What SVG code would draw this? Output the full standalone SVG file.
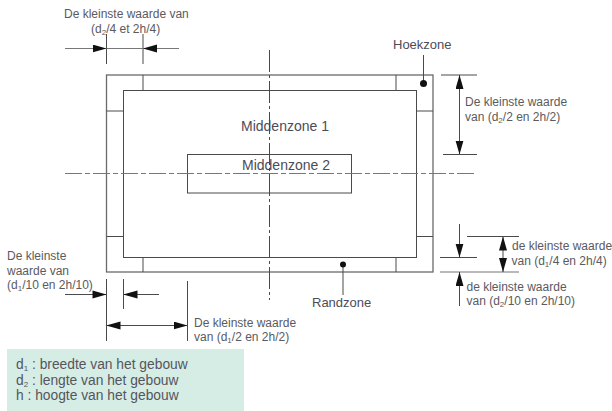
<svg xmlns="http://www.w3.org/2000/svg" width="612" height="411" viewBox="0 0 612 411">
<style>
text{font-family:"Liberation Sans",Arial,sans-serif;font-size:12px;fill:#5a5a60}
.z{font-size:13px;fill:#4c4c58}
.m{font-size:14px;fill:#4c4c58}
.p{font-size:13.800px;fill:#55555c}
.s{font-size:8px}
.l{fill:none;stroke:#4a4a4a;stroke-width:1}
.o{fill:none;stroke:#6a6a6a;stroke-width:1.300}
.g{fill:none;stroke:#777;stroke-width:1.200}
</style>
<defs>
<marker id="a" markerUnits="userSpaceOnUse" markerWidth="14" markerHeight="10" refX="14" refY="4" orient="auto"><path d="M0 0L14 4L0 8Z" fill="#111"/></marker>
</defs>
<rect x="0" y="0" width="612" height="411" fill="#fff"/>
<g id="paneel"><rect x="7" y="349" width="237" height="62" fill="#d6ede6"/>
<text class="p" x="16" y="369">d<tspan class="s" dy="2">1</tspan><tspan dy="-2"> : breedte van het gebouw</tspan></text>
<text class="p" x="16" y="384.500">d<tspan class="s" dy="2">2</tspan><tspan dy="-2"> : lengte van het gebouw</tspan></text>
<text class="p" x="16" y="400">h : hoogte van het gebouw</text></g>
<g id="randzone-gebouw"><rect class="o" x="106.500" y="75" width="326.500" height="197"/></g>
<g id="middenzone-1"><rect class="l" x="123.500" y="90.500" width="293" height="167"/>
<text class="m" x="241" y="131">Middenzone 1</text></g>
<g id="middenzone-2"><rect class="l" x="187.500" y="154.500" width="164" height="38.500"/>
<text class="m" x="242" y="170">Middenzone 2</text></g>
<g id="connectors">
<path class="l" d="M143 75V90M396 75V90M143 257.500V272M396 257.500V272M106.500 111H123.500M416.500 111H433M106.500 236.500H123.500M416.500 236.500H433"/>
<path class="l" stroke-dasharray="22 3 3 3" d="M269.500 50V300"/>
<path class="g" stroke-dasharray="17 3 5 3" d="M65 173.500H475"/>
<path class="l" d="M106.500 34V64M143 34V64"/>
<path class="g" d="M65 48.500H106.500" marker-end="url(#a)"/>
<path class="g" d="M179 48.500H143" marker-end="url(#a)"/>
<path class="g" d="M107 48.500H143"/>
<path class="l" d="M441 75H477M443 154.500H477"/>
<path class="l" d="M459.500 115V75" marker-end="url(#a)"/>
<path class="l" d="M459.500 115V154.500" marker-end="url(#a)"/>
<path class="l" d="M423.500 55V83"/>
<circle cx="423.500" cy="83.500" r="3.500" fill="#111"/>
<path class="l" d="M106.500 279V341M123.500 279V309M187.500 281V341"/>
<line x1="65" y1="294.500" x2="106" y2="294.500" stroke="#4a4a4a" stroke-width="1"/>
<polygon points="92.500,290.500 106.500,294.500 92.500,298.500" fill="#111"/>
<path class="l" d="M159 294.500H123.500" marker-end="url(#a)"/>
<path class="l" d="M147 325.500H106.500" marker-end="url(#a)"/>
<path class="l" d="M147 325.500H187.500" marker-end="url(#a)"/>
<path class="l" d="M440 257.500H477M467 236.500H519"/>
<path class="g" d="M440 272H519"/>
<path class="l" d="M459.500 224V257.500" marker-end="url(#a)"/>
<path class="l" d="M459.500 306V272" marker-end="url(#a)"/>
<path class="l" d="M503 254V236.500" marker-end="url(#a)"/>
<path class="l" d="M503 254V272" marker-end="url(#a)"/>
<path class="l" d="M343 264.500V295"/>
<circle cx="343" cy="264.500" r="3" fill="#111"/>
</g>
<g id="labels">
<text x="64" y="18">De kleinste waarde van</text>
<text x="91" y="32.500">(d<tspan class="s" dy="2">2</tspan><tspan dy="-2">/4 et 2h/4)</tspan></text>
<text class="z" x="393" y="49">Hoekzone</text>
<text x="465" y="106">De kleinste waarde</text>
<text x="465" y="120.500">van (d<tspan class="s" dy="2">2</tspan><tspan dy="-2">/2 en 2h/2)</tspan></text>
<text x="512" y="250">de kleinste waarde</text>
<text x="511.500" y="265">van (d<tspan class="s" dy="2">1</tspan><tspan dy="-2">/4 en 2h/4)</tspan></text>
<text x="466.500" y="291">de kleinste waarde</text>
<text x="466.500" y="305">van (d<tspan class="s" dy="2">2</tspan><tspan dy="-2">/10 en 2h/10)</tspan></text>
<text class="z" x="312" y="307">Randzone</text>
<text x="7" y="260">De kleinste</text>
<text x="7" y="274.500">waarde van</text>
<text x="7" y="288.500">(d<tspan class="s" dy="2">1</tspan><tspan dy="-2">/10 en 2h/10)</tspan></text>
<text x="194" y="327">De kleinste waarde</text>
<text x="194" y="341">van (d<tspan class="s" dy="2">1</tspan><tspan dy="-2">/2 en 2h/2)</tspan></text>
</g>
</svg>
